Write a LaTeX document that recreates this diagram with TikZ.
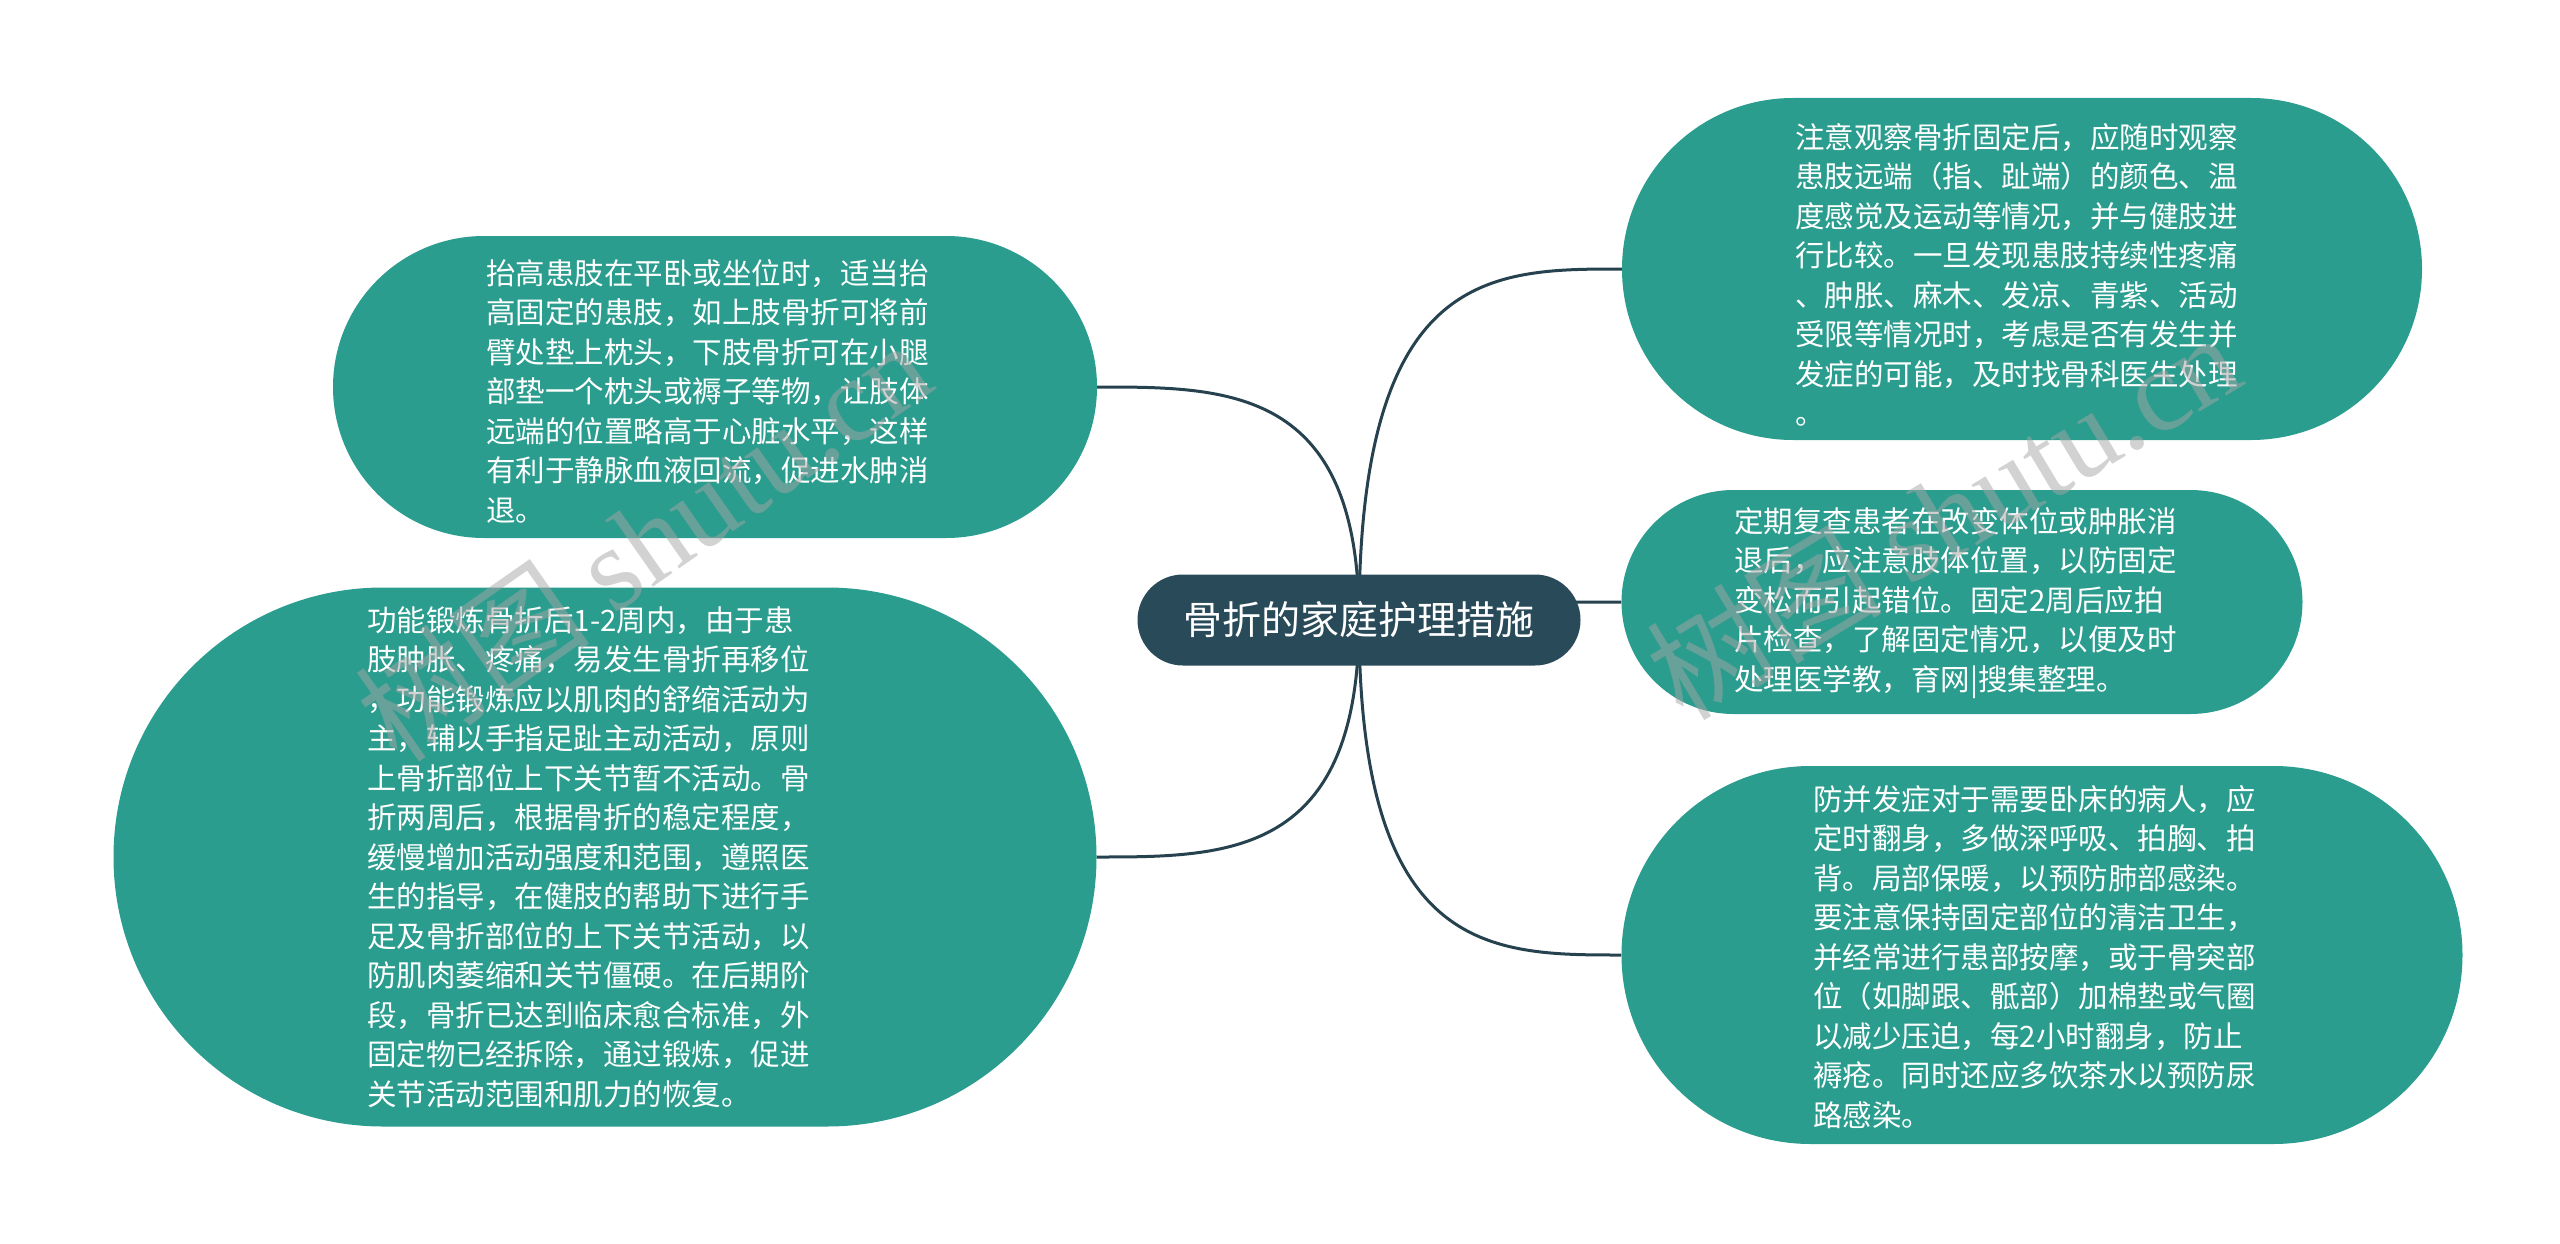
\documentclass[tikz,border=0pt]{standalone}
\usepackage{fontspec}
\setmainfont{Noto Sans CJK SC}
\newfontfamily\wmserif{Liberation Serif}
\usetikzlibrary{shapes.misc,calc,backgrounds}
\definecolor{tealbox}{RGB}{42,157,142}
\definecolor{darkhub}{RGB}{41,74,88}
\definecolor{connline}{RGB}{38,66,78}
\definecolor{wmgray}{RGB}{165,165,165}
\begin{document}
\begin{tikzpicture}[x=1pt,y=1pt,
  pill/.style={rounded rectangle, fill=tealbox, draw=none, inner sep=0pt},
  hub/.style={rounded rectangle, fill=darkhub, draw=none, inner sep=0pt, text=white,
    font=\fontsize{39}{39}\selectfont},
  bodytext/.style={anchor=west, align=left, text=white, inner sep=0pt,
    font=\fontsize{29.5}{39.5}\selectfont},
  conn/.style={draw=connline, line width=3pt},
  wm/.style={text=wmgray, text opacity=0.5, inner sep=0pt,
    font=\fontsize{118}{118}\selectfont}]
\useasboundingbox (0,0) rectangle (2560,-1244);

% central node
\node[hub, minimum width=443pt, minimum height=91pt] (c) at (1359,-620) {骨折的家庭护理措施};

% boxes
\node[pill, minimum width=800pt, minimum height=342pt] (tr) at (2022,-269) {};
\node[pill, minimum width=681pt, minimum height=224pt] (mr) at (1962,-602) {};
\node[pill, minimum width=841pt, minimum height=378pt] (br) at (2042,-955) {};
\node[pill, minimum width=764pt, minimum height=302pt] (tl) at (715,-387) {};
\node[pill, minimum width=983pt, minimum height=539pt] (bl) at (605,-857) {};

% texts
\node[bodytext] (trt) at (1795,-275) {注意观察骨折固定后，应随时观察\\患肢远端（指、趾端）的颜色、温\\度感觉及运动等情况，并与健肢进\\行比较。一旦发现患肢持续性疼痛\\、肿胀、麻木、发凉、青紫、活动\\受限等情况时，考虑是否有发生并\\发症的可能，及时找骨科医生处理\\。};
\node[bodytext] (mrt) at (1734,-603) {定期复查患者在改变体位或肿胀消\\退后，应注意肢体位置，以防固定\\变松而引起错位。固定2周后应拍\\片检查，了解固定情况，以便及时\\处理医学教，育网|搜集整理。};
\node[bodytext] (brt) at (1813,-957) {防并发症对于需要卧床的病人，应\\定时翻身，多做深呼吸、拍胸、拍\\背。局部保暖，以预防肺部感染。\\要注意保持固定部位的清洁卫生，\\并经常进行患部按摩，或于骨突部\\位（如脚跟、骶部）加棉垫或气圈\\以减少压迫，每2小时翻身，防止\\褥疮。同时还应多饮茶水以预防尿\\路感染。};
\node[bodytext] (tlt) at (486,-391) {抬高患肢在平卧或坐位时，适当抬\\高固定的患肢，如上肢骨折可将前\\臂处垫上枕头，下肢骨折可在小腿\\部垫一个枕头或褥子等物，让肢体\\远端的位置略高于心脏水平，这样\\有利于静脉血液回流，促进水肿消\\退。};
\node[bodytext] (blt) at (367,-857) {功能锻炼骨折后1-2周内，由于患\\肢肿胀、疼痛，易发生骨折再移位\\，功能锻炼应以肌肉的舒缩活动为\\主，辅以手指足趾主动活动，原则\\上骨折部位上下关节暂不活动。骨\\折两周后，根据骨折的稳定程度，\\缓慢增加活动强度和范围，遵照医\\生的指导，在健肢的帮助下进行手\\足及骨折部位的上下关节活动，以\\防肌肉萎缩和关节僵硬。在后期阶\\段，骨折已达到临床愈合标准，外\\固定物已经拆除，通过锻炼，促进\\关节活动范围和肌力的恢复。};

% watermarks
\node[wm, rotate=35] (wm1) at (643,-540) {树图 {\wmserif shutu.cn}};
\node[wm, rotate=31] (wm2) at (1943,-514) {树图 {\wmserif shutu.cn}};

% connectors
\begin{scope}[on background layer]
\foreach \n/\a in {tr/west, mr/west, br/west, tl/east, bl/east}{
  \draw[conn] (c.center) .. controls (c.center |- \n.\a) and ($(c.center |- \n.\a)!0.5!(\n.\a)$) .. (\n.\a);
}
\end{scope}
\end{tikzpicture}
\end{document}
